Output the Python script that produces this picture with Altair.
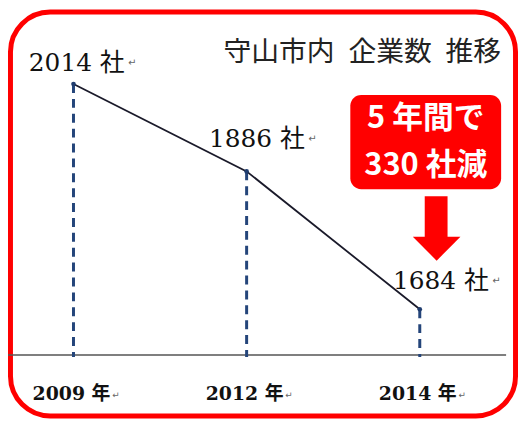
import altair as alt
import pandas as pd

# ---- data ----
years = ["2009", "2012", "2014"]
counts = [2014, 1886, 1684]
value_labels = ["2014 社", "1886 社", "1684 社"]
year_labels = ["2009 年", "2012 年", "2014 年"]
title_text = "守山市内\u2002企業数\u2002推移"
callout_lines = ["5 年間で", "330 社減"]
base_value = 1617  # value at the drawn baseline

df = pd.DataFrame({"year": years, "count": counts,
                   "vlabel": value_labels, "ylabel": year_labels,
                   "base": [base_value] * 3, "base2": [base_value - 3] * 3})
one = pd.DataFrame({"t": [title_text], "base": [base_value]})

W, H = 514, 412
SERIF = "'DejaVu Serif', 'Noto Sans CJK JP'"
CJK = "'Noto Sans CJK JP'"
NARROW = "'Liberation Sans Narrow', 'Noto Sans CJK JP'"
RED = "#ff0000"

xs = alt.Scale(type="point", domain=years, range=[66, 415], padding=0)
ys = alt.Scale(domain=[1684, 2014], range=[302, 75], nice=False, zero=False)
X = alt.X("year:O", scale=xs, axis=None)
Y = alt.Y("count:Q", scale=ys, axis=None)
YB = alt.Y("base:Q", scale=ys, axis=None)

base = alt.Chart(df)

frame = alt.Chart(one).mark_rect(
    fillOpacity=0, stroke=RED, strokeWidth=5, cornerRadius=40
).encode(x=alt.value(2.5), x2=alt.value(W - 2.5), y=alt.value(2.5), y2=alt.value(H - 2.5))

baseline = alt.Chart(one).mark_rule(color="#555555", strokeWidth=1.5).encode(
    y=YB, x=alt.value(0), x2=alt.value(502))

drops = base.mark_rule(color="#24457a", strokeWidth=3, strokeDash=[9, 6]).encode(
    x=X, y=Y, y2=alt.Y2("base2:Q"))

line = base.mark_line(color="#1a1a2a", strokeWidth=1.8).encode(x=X, y=Y)
pts = base.mark_point(filled=True, size=22, color="#1f3c6e", opacity=1).encode(x=X, y=Y)

layers = [frame, baseline, drops, line, pts]

label_offsets = [(-45, -13), (-38, -25), (-27, -20)]
for yr, (dx, dy) in zip(years, label_offsets):
    sub = base.transform_filter(alt.datum.year == yr)
    layers.append(sub.mark_text(align="left", baseline="alphabetic", dx=dx, dy=dy,
                                font=SERIF, fontSize=25, color="#111111").encode(
        x=X, y=Y, text="vlabel:N"))
    layers.append(sub.mark_text(align="left", baseline="alphabetic", dx=dx + 100, dy=dy - 5,
                                font="DejaVu Sans", fontSize=10, color="#666666", text="↵").encode(
        x=X, y=Y))

xlab = base.mark_text(align="center", baseline="alphabetic", dx=-2, dy=45,
                      font=SERIF, fontSize=19, fontWeight="bold", color="#111111").encode(
    x=X, y=YB, text="ylabel:N")
xret = base.mark_text(align="left", baseline="alphabetic", dx=39, dy=43,
                      font="DejaVu Sans", fontSize=9, color="#666666", text="↵").encode(
    x=X, y=YB)
layers += [xlab, xret]

title = alt.Chart(one).mark_text(align="right", baseline="alphabetic", font=CJK,
                                 fontSize=28, color="#222222").encode(
    x=alt.value(497), y=alt.value(52), text="t:N")

box = alt.Chart(one).mark_rect(color=RED, cornerRadius=11).encode(
    x=alt.value(345), x2=alt.value(497), y=alt.value(86), y2=alt.value(181))
layers += [title, box]

for txt, yy in zip(callout_lines, [119, 167]):
    layers.append(alt.Chart(pd.DataFrame({"t": [txt]})).mark_text(
        align="center", baseline="alphabetic", font=NARROW, fontSize=31,
        fontWeight="bold", color="white").encode(
        x=alt.value(421), y=alt.value(yy), text="t:N"))

shaft = alt.Chart(one).mark_rect(color=RED).encode(
    x=alt.value(420), x2=alt.value(443), y=alt.value(188), y2=alt.value(231))
head = alt.Chart(one).mark_point(shape="M-1,-0.5L1,-0.5L0,0.5Z", size=2304, filled=True,
                                 color=RED, opacity=1, strokeWidth=0).encode(
    x=alt.value(432), y=alt.value(241))
layers += [shaft, head]

chart = alt.layer(*layers).properties(
    width=W, height=H, padding=0, autosize=alt.AutoSizeParams(type="none")
).configure_view(stroke=None)

chart.save("out.html", embed_options={"renderer": "svg", "actions": False})
